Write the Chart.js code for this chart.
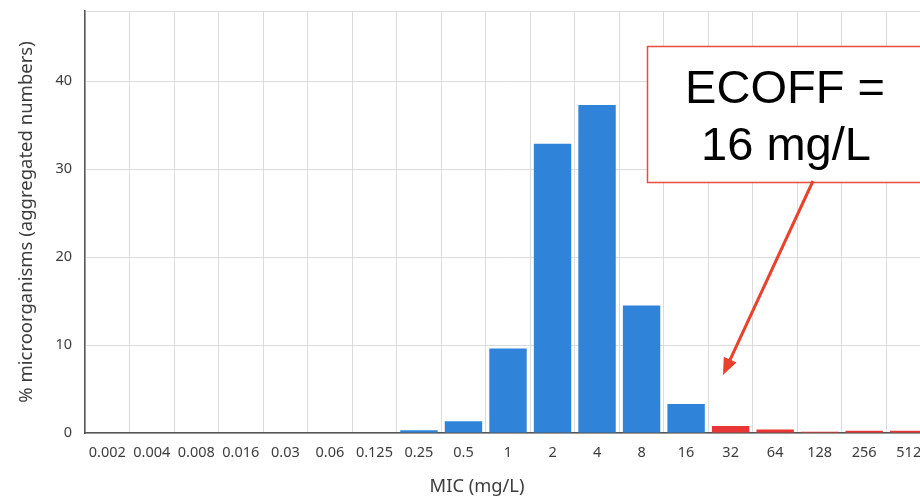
<!DOCTYPE html>
<html>
<head>
<meta charset="utf-8">
<script src="https://cdn.jsdelivr.net/npm/chart.js@4"></script>
<style>
  html, body { margin: 0; padding: 0; overflow: hidden; background: #fff; }
  #wrap { width: 935px; height: 497px; position: relative; }
</style>
</head>
<body>
<div id="wrap"><canvas id="mic"></canvas></div>
<script>
// MIC distribution data
const micLabels = ['0.002', '0.004', '0.008', '0.016', '0.03', '0.06', '0.125', '0.25', '0.5',
    '1', '2', '4', '8', '16', '32', '64', '128', '256', '512'];
const percentValues = [0, 0, 0, 0, 0, 0, 0, 0.3, 1.35, 9.6, 32.9, 37.3, 14.5, 3.3, 0.8, 0.4, 0.15, 0.25, 0.25];
const yTicks = [0, 10, 20, 30, 40];
const ecoffLabel = '16';

const blue = '#2f84d9';
const red = '#e83636';
const ecoffIdx = micLabels.indexOf(ecoffLabel);
const barColors = micLabels.map((_, i) => i > ecoffIdx ? red : blue);

// annotation box + arrow, drawn on top
const ecoffNote = {
    id: 'ecoffNote',
    afterDraw(chart) {
        const ctx = chart.ctx;
        ctx.save();
        ctx.fillStyle = '#fff';
        ctx.fillRect(647, 46, 290, 137);
        ctx.strokeStyle = '#e84c3d';
        ctx.lineWidth = 1.5;
        ctx.strokeRect(647.5, 46.5, 290, 136);

        ctx.fillStyle = '#000';
        ctx.font = '47px "Liberation Sans", Arial, sans-serif';
        ctx.textAlign = 'center';
        ctx.textBaseline = 'alphabetic';
        ctx.fillText('ECOFF =', 785, 103);
        ctx.fillText('16 mg/L', 786, 160);

        // arrow
        const x0 = 813, y0 = 181, x1 = 723, y1 = 375;
        const ang = Math.atan2(y1 - y0, x1 - x0);
        ctx.strokeStyle = '#e8412c';
        ctx.fillStyle = '#e8412c';
        ctx.lineWidth = 3;
        ctx.beginPath();
        ctx.moveTo(x0, y0);
        ctx.lineTo(x1 - 12 * Math.cos(ang), y1 - 12 * Math.sin(ang));
        ctx.stroke();
        ctx.beginPath();
        ctx.moveTo(x1, y1);
        ctx.lineTo(x1 - 17 * Math.cos(ang) + 7 * Math.sin(ang), y1 - 17 * Math.sin(ang) - 7 * Math.cos(ang));
        ctx.lineTo(x1 - 17 * Math.cos(ang) - 7 * Math.sin(ang), y1 - 17 * Math.sin(ang) + 7 * Math.cos(ang));
        ctx.closePath();
        ctx.fill();

        // x axis title
        ctx.fillStyle = '#3c3c3c';
        ctx.font = '18.3px "Noto Sans", sans-serif';
        ctx.textBaseline = 'middle';
        ctx.fillText('MIC (mg/L)', 477, 487);
        ctx.restore();
    }
};

new Chart(document.getElementById('mic'), {
    type: 'bar',
    data: {
        labels: micLabels,
        datasets: [{
            data: percentValues,
            backgroundColor: barColors,
            borderWidth: 0,
            barPercentage: 0.84,
            categoryPercentage: 1
        }]
    },
    options: {
        responsive: true,
        maintainAspectRatio: false,
        animation: false,
        layout: { padding: { top: 11, right: 4, left: 0, bottom: 0 } },
        plugins: {
            legend: { display: false },
            tooltip: { enabled: false }
        },
        scales: {
            x: {
                offset: true,
                grid: { offset: true, color: '#dcdcdc', drawTicks: false },
                border: { color: '#555', width: 1.5 },
                ticks: {
                    color: '#3c3c3c',
                    font: { family: 'Noto Sans', size: 14.5 },
                    maxRotation: 0,
                    autoSkip: false,
                    padding: 11
                },
                afterFit: s => {
                    s.height = 64;
                    s.paddingLeft = 0;
                    s.paddingRight = 0;
                }
            },
            y: {
                min: 0,
                max: 48,
                grid: { color: '#dcdcdc', drawTicks: false },
                border: { color: '#555', width: 1.5 },
                afterBuildTicks: s => {
                    s.ticks = yTicks.concat([48]).map(v => ({ value: v }));
                },
                ticks: {
                    color: '#3c3c3c',
                    font: { family: 'Noto Sans', size: 14.5 },
                    padding: 13,
                    callback: v => yTicks.includes(v) ? v : ''
                },
                title: {
                    display: true,
                    text: '% microorganisms (aggregated numbers)',
                    color: '#3c3c3c',
                    font: { family: 'Noto Sans', size: 18.5 },
                    padding: { top: 16, bottom: 0 }
                },
                afterFit: s => {
                    s.width = 85;
                    s.paddingTop = 0;
                    s.paddingBottom = 0;
                }
            }
        }
    },
    plugins: [ecoffNote]
});
</script>
</body>
</html>
